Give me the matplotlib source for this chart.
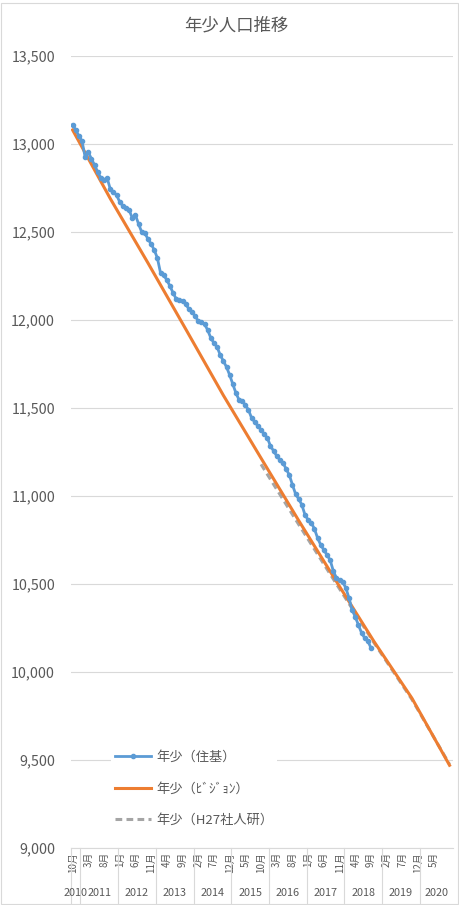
import matplotlib
matplotlib.use("Agg")
import matplotlib.pyplot as plt
import matplotlib.transforms as mtransforms
from matplotlib.patches import Rectangle

plt.rcParams['font.family'] = ['Noto Sans CJK JP', 'DejaVu Sans']

# month categories: 2010/10 .. 2020/11
start_year, start_month = 2010, 10
n_months = 122
cat_year = [start_year + (start_month - 1 + i) // 12 for i in range(n_months)]
cat_month = [(start_month - 1 + i) % 12 + 1 for i in range(n_months)]

# 年少（住基） monthly, 2010/10 .. 2018/9
juki = [13110, 13080, 13046, 13017, 12926, 12955, 12915, 12881, 12841, 12807,
        12796, 12807, 12744, 12727, 12710, 12671, 12648, 12636, 12625, 12580,
        12597, 12546, 12500, 12494, 12460, 12432, 12398, 12352, 12267, 12256,
        12227, 12193, 12154, 12119, 12114, 12108, 12091, 12063, 12046, 12023,
        11994, 11989, 11977, 11943, 11898, 11869, 11847, 11801, 11767, 11733,
        11688, 11636, 11585, 11546, 11540, 11517, 11489, 11443, 11420, 11398,
        11375, 11352, 11330, 11284, 11256, 11227, 11205, 11188, 11153, 11119,
        11063, 11011, 10983, 10949, 10892, 10864, 10847, 10813, 10761, 10722,
        10693, 10665, 10636, 10574, 10534, 10523, 10511, 10477, 10420, 10352,
        10313, 10267, 10222, 10193, 10176, 10136]

# 年少（ﾋﾞｼﾞｮﾝ） October of each year
vision_idx = [0, 12, 24, 36, 48, 60, 72, 84, 96, 108, 120]
vision = [13080, 12690, 12324, 11949, 11572, 11215, 10860, 10514, 10172, 9852, 9470]

# 年少（H27社人研）
ipss_idx = [60, 72, 84, 96, 108, 120]
ipss = [11180, 10838, 10500, 10165, 9845, 9475]

yticks = [9000, 9500, 10000, 10500, 11000, 11500, 12000, 12500, 13000, 13500]

txt = '#595959'
fig = plt.figure(figsize=(4.59, 9.05), dpi=100)
ax = fig.add_axes([71/459, 1-848/905, (453-71)/459, (848-56)/905])

ax.plot(range(len(juki)), juki, color='#5B9BD5', lw=2.0, marker='o', ms=3.0,
        label='年少（住基）', zorder=4)
ax.plot(vision_idx, vision, color='#ED7D31', lw=2.2, label='年少（ﾋﾞｼﾞｮﾝ）', zorder=3)
ax.plot(ipss_idx, ipss, color='#A5A5A5', lw=2.2, ls=(0, (2.2, 1.4)),
        label='年少（H27社人研）', zorder=2)

ax.set_ylim(9000, 13500)
ax.set_xlim(-0.5, n_months - 0.9)
ax.set_yticks(yticks)
ax.set_yticklabels([f'{v:,}' for v in yticks])
ax.grid(axis='y', color='#D9D9D9', lw=0.8)
ax.set_axisbelow(True)
for s in ['top', 'right', 'left']:
    ax.spines[s].set_visible(False)
ax.spines['bottom'].set_color('#D9D9D9')
ax.tick_params(axis='y', length=0, pad=11.5, labelsize=10.3, labelcolor=txt)

mt = list(range(0, 116, 5))
ax.set_xticks(mt)
ax.set_xticklabels([f'{cat_month[i]}月' for i in mt], rotation=90, fontsize=7, color=txt)
ax.tick_params(axis='x', length=0, pad=3)

# year row and separators
trans = mtransforms.blended_transform_factory(ax.transData, ax.transAxes)
years = sorted(set(cat_year))
bounds = [-0.5]
for y in years:
    idx = [i for i in range(n_months) if cat_year[i] == y]
    ax.text((idx[0] + idx[-1]) / 2, -0.057, str(y), transform=trans,
            ha='center', va='center', fontsize=7.8, color=txt)
    bounds.append(idx[-1] + 0.5)
for b in bounds[:-1]:
    ax.plot([b, b], [0, -0.072], transform=trans, color='#D9D9D9', lw=0.8, clip_on=False)

fig.text(236/459, 1-25/905, '年少人口推移', fontsize=12.5, color=txt,
         ha='center', va='center')

leg = ax.legend(loc='upper left', bbox_to_anchor=(0.105, 0.128), frameon=True,
                fontsize=9.5, labelspacing=1.42, handlelength=2.7, handletextpad=0.4,
                borderaxespad=0, borderpad=0.3)
leg.get_frame().set_edgecolor('none')
leg.get_frame().set_facecolor('white')
leg.get_frame().set_alpha(1)
for t in leg.get_texts():
    t.set_color(txt)

fig.patches.append(Rectangle((0.002, 0.001), 0.996, 0.996, transform=fig.transFigure,
                             fill=False, edgecolor='#D9D9D9', lw=0.8))

fig.savefig('out.png', dpi=100)
